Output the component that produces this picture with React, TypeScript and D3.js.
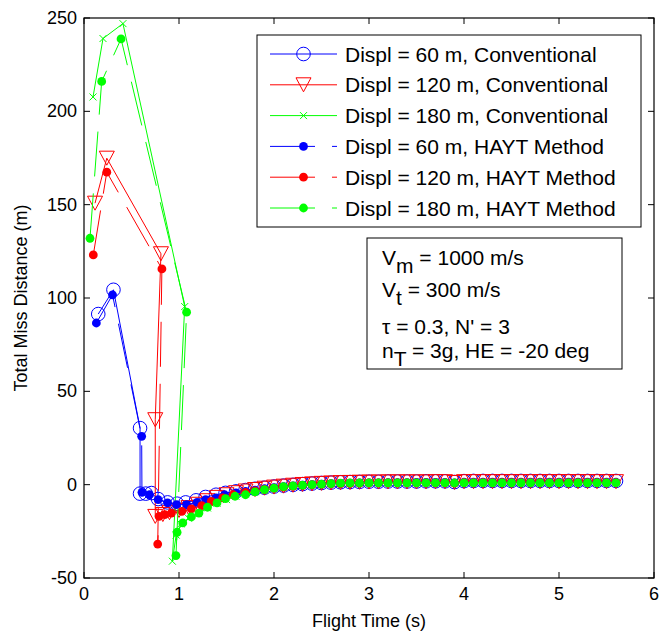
import React from "react";
import * as d3 from "d3";

// ---------- data ----------
const xTicks = [0, 1, 2, 3, 4, 5, 6];
const yTicks = [-50, 0, 50, 100, 150, 200, 250];

const tailTime = [1.7, 1.8, 1.9, 2.0, 2.1, 2.2, 2.3, 2.4, 2.5, 2.6, 2.7, 2.8, 2.9, 3.0, 3.1, 3.2, 3.3, 3.4, 3.5, 3.6, 3.7, 3.8, 3.9, 4.0, 4.1, 4.2, 4.3, 4.4, 4.5, 4.6, 4.7, 4.8, 4.9, 5.0, 5.1, 5.2, 5.3, 5.4, 5.5, 5.6];

const blueConvTime = [0.15, 0.31, 0.59, 0.59, 0.65, 0.71, 0.78, 0.88, 0.98, 1.07, 1.18, 1.28, 1.39, 1.49, 1.6];
const blueConvValue = [91.4, 104.4, 30.3, -4.8, -4.8, -4.5, -7.7, -9.5, -10.2, -9.5, -8.4, -6.6, -5.4, -4.4, -3.6];
const blueConvTail = [-2.9, -2.2, -1.6, -1.0, -0.5, -0.1, 0.3, 0.6, 0.9, 1.1, 1.3, 1.4, 1.5, 1.6, 1.6, 1.7, 1.7, 1.7, 1.7, 1.8, 1.8, 1.8, 1.4, 1.9, 2.0, 2.0, 2.0, 2.0, 2.0, 2.0, 2.0, 2.0, 2.0, 2.0, 2.0, 2.0, 2.0, 2.0, 2.0, 2.0];

const redConvTime = [0.116, 0.24, 0.81, 0.75, 0.75, 0.83, 0.9, 1.0, 1.1, 1.2, 1.3, 1.4, 1.5, 1.6];
const redConvValue = [150.8, 174.9, 123.7, 34.8, -17, -16, -15, -13.8, -12.3, -10.5, -8.6, -6.8, -5.4, -4.3];
const redConvTail = [-3.4, -2.6, -1.9, -1.3, -0.8, -0.3, 0.1, 0.4, 0.7, 0.9, 1.1, 1.2, 1.3, 1.4, 1.4, 1.5, 1.5, 1.5, 1.5, 1.5, 1.6, 1.6, 1.2, 1.6, 1.6, 1.6, 1.6, 1.6, 1.6, 1.6, 1.6, 1.6, 1.6, 1.6, 1.6, 1.6, 1.6, 1.6, 1.6, 1.6];

const greenConvTime = [0.095, 0.2, 0.41, 1.06, 0.93, 0.97, 1.02, 1.1, 1.2, 1.3, 1.4, 1.5, 1.6];
const greenConvValue = [207.7, 239, 247, 95.4, -41, -27, -21, -18, -15.5, -12.5, -10, -8, -6.3];
const greenConvTail = [-4.8, -3.8, -2.9, -2.1, -1.4, -0.9, -0.5, -0.1, 0.2, 0.5, 0.7, 0.8, 0.9, 1.0, 1.0, 1.0, 1.0, 1.0, 1.0, 1.0, 1.0, 1.0, 0.9, 1.1, 1.1, 1.1, 1.1, 1.1, 1.1, 1.1, 1.1, 1.1, 1.1, 1.1, 1.1, 1.1, 1.1, 1.1, 1.1, 1.1];

const blueHaytTime = [0.13, 0.3, 0.607, 0.61, 0.69, 0.78, 0.88, 0.975, 1.08, 1.19, 1.28, 1.39, 1.48, 1.6];
const blueHaytValue = [86.6, 101.7, 25.9, -4.1, -5.4, -8, -9.8, -10.7, -10.7, -9.5, -8, -7.1, -5.4, -4.4];
const blueHaytTail = [-3.6, -2.9, -2.2, -1.6, -1.1, -0.7, -0.3, 0.0, 0.3, 0.5, 0.7, 0.8, 0.9, 1.0, 1.0, 1.1, 1.1, 1.1, 1.2, 1.2, 1.2, 1.2, 0.9, 1.3, 1.3, 1.3, 1.3, 1.3, 1.3, 1.3, 1.3, 1.3, 1.3, 1.3, 1.3, 1.3, 1.3, 1.3, 1.3, 1.3];

const redHaytTime = [0.098, 0.24, 0.82, 0.776, 0.79, 0.85, 0.92, 1.03, 1.13, 1.24, 1.34, 1.46, 1.57];
const redHaytValue = [123.1, 167.4, 115.6, -31.8, -17, -16, -15.2, -14.3, -13, -11.2, -8.9, -7.1, -5.4];
const redHaytTail = [-4.2, -3.3, -2.6, -1.9, -1.3, -0.8, -0.4, -0.1, 0.2, 0.4, 0.6, 0.7, 0.8, 0.9, 0.9, 1.0, 1.0, 1.0, 1.0, 1.0, 1.0, 1.0, 0.8, 1.1, 1.1, 1.1, 1.1, 1.1, 1.1, 1.1, 1.1, 1.1, 1.1, 1.1, 1.1, 1.1, 1.1, 1.1, 1.1, 1.1];

const greenHaytTime = [0.063, 0.186, 0.39, 1.08, 0.968, 0.98, 1.04, 1.13, 1.21, 1.3, 1.4, 1.49, 1.59];
const greenHaytValue = [132, 216, 238.8, 92.4, -38, -25.5, -20.5, -17.3, -15.2, -12.1, -9.8, -7.5, -6.2];
const greenHaytTail = [-5.4, -3.9, -2.7, -1.8, -1.1, -0.7, -0.3, 0.0, 0.3, 0.6, 0.8, 0.9, 0.9, 1.0, 1.0, 1.0, 1.0, 1.0, 1.0, 1.0, 1.0, 1.0, 0.9, 1.0, 1.0, 1.0, 1.0, 1.0, 1.0, 1.0, 1.0, 1.0, 1.0, 1.0, 1.0, 1.0, 1.0, 1.0, 1.0, 1.0];

const legendLabels = [
  "Displ = 60 m, Conventional",
  "Displ = 120 m, Conventional",
  "Displ = 180 m, Conventional",
  "Displ = 60 m, HAYT Method",
  "Displ = 120 m, HAYT Method",
  "Displ = 180 m, HAYT Method",
];

type Pt = [number, number];
const build = (t: number[], v: number[], tail: number[]): Pt[] =>
  t.map((d, i) => [d, v[i]] as Pt).concat(tailTime.map((d, i) => [d, tail[i]] as Pt));

const series = [
  { pts: build(blueConvTime, blueConvValue, blueConvTail), color: "#0000ff", marker: "circle", dashed: false },
  { pts: build(redConvTime, redConvValue, redConvTail), color: "#ff0000", marker: "triangle", dashed: false },
  { pts: build(greenConvTime, greenConvValue, greenConvTail), color: "#00ff00", marker: "x", dashed: false },
  { pts: build(blueHaytTime, blueHaytValue, blueHaytTail), color: "#0000ff", marker: "dot", dashed: true },
  { pts: build(redHaytTime, redHaytValue, redHaytTail), color: "#ff0000", marker: "dot", dashed: true },
  { pts: build(greenHaytTime, greenHaytValue, greenHaytTail), color: "#00ff00", marker: "dot", dashed: true },
];

const FONT = "Arial, 'Liberation Sans', sans-serif";
const DASH = "45 17";

function Marker({ kind, x, y, color }: { kind: string; x: number; y: number; color: string }) {
  if (kind === "circle")
    return <circle cx={x} cy={y} r={6.8} fill="none" stroke={color} strokeWidth={1} />;
  if (kind === "triangle")
    return (
      <polygon
        points={`${x - 7.5},${y - 7} ${x + 7.5},${y - 7} ${x},${y + 7}`}
        fill="none"
        stroke={color}
        strokeWidth={1}
      />
    );
  if (kind === "x")
    return (
      <path
        d={`M${x - 3.5},${y - 3.5}L${x + 3.5},${y + 3.5}M${x - 3.5},${y + 3.5}L${x + 3.5},${y - 3.5}`}
        stroke={color}
        strokeWidth={1}
      />
    );
  return <circle cx={x} cy={y} r={4.4} fill={color} stroke="none" />;
}

export default function App() {
  const x = d3.scaleLinear().domain([0, 6]).range([84, 654]);
  const y = d3.scaleLinear().domain([-50, 250]).range([578, 18]);
  const line = d3
    .line<Pt>()
    .x((d) => x(d[0]))
    .y((d) => y(d[1]));

  const legX0 = 270;
  const legX1 = 337;
  const legRow = (i: number) => 54 + i * 30.8;

  return (
    <svg
      width={661}
      height={638}
      style={{ position: "absolute", left: 0, top: 0, background: "#fff" }}
      fontFamily={FONT}
    >
      <rect x={0} y={0} width={661} height={638} fill="#fff" />
      {/* series */}
      {series.map((s, i) => (
        <g key={i}>
          <path
            d={line(s.pts) || ""}
            fill="none"
            stroke={s.color}
            strokeWidth={1}
            strokeDasharray={s.dashed ? DASH : undefined}
          />
          {s.pts.map((p, j) => (
            <Marker key={j} kind={s.marker} x={x(p[0])} y={y(p[1])} color={s.color} />
          ))}
        </g>
      ))}

      {/* axes box */}
      <rect x={84} y={18} width={570} height={560} fill="none" stroke="#000" strokeWidth={1.2} />
      {xTicks.map((t) => (
        <g key={"x" + t}>
          <line x1={x(t)} x2={x(t)} y1={578} y2={572} stroke="#000" />
          <line x1={x(t)} x2={x(t)} y1={18} y2={24} stroke="#000" />
          <text x={x(t)} y={600} fontSize={18} textAnchor="middle">
            {t}
          </text>
        </g>
      ))}
      {yTicks.map((t) => (
        <g key={"y" + t}>
          <line x1={84} x2={90} y1={y(t)} y2={y(t)} stroke="#000" />
          <line x1={654} x2={648} y1={y(t)} y2={y(t)} stroke="#000" />
          <text x={77} y={y(t) + 6} fontSize={18} textAnchor="end">
            {t}
          </text>
        </g>
      ))}
      <text x={369} y={627} fontSize={18} textAnchor="middle">
        Flight Time (s)
      </text>
      <text transform="translate(27,298) rotate(-90)" fontSize={18} textAnchor="middle">
        Total Miss Distance (m)
      </text>

      {/* legend */}
      <rect x={257} y={35} width={384} height={192} fill="#fff" stroke="#000" strokeWidth={1} />
      {series.map((s, i) => {
        const yy = legRow(i);
        return (
          <g key={"l" + i}>
            <line
              x1={legX0}
              x2={legX1}
              y1={yy}
              y2={yy}
              stroke={s.color}
              strokeWidth={1}
              strokeDasharray={s.dashed ? DASH : undefined}
            />
            <Marker kind={s.marker} x={303.5} y={yy} color={s.color} />
            <text x={345} y={yy + 7.5} fontSize={21}>
              {legendLabels[i]}
            </text>
          </g>
        );
      })}

      {/* annotation */}
      <rect x={367} y={238} width={255} height={131} fill="#fff" stroke="#000" strokeWidth={1} />
      <g fontSize={21}>
        <text x={382} y={265}>
          V<tspan dy={8}>m</tspan>
          <tspan dy={-8}> = 1000 m/s</tspan>
        </text>
        <text x={382} y={297}>
          V<tspan dy={8}>t</tspan>
          <tspan dy={-8}> = 300 m/s</tspan>
        </text>
        <text x={382} y={334}>
          τ = 0.3, N' = 3
        </text>
        <text x={382} y={358}>
          n<tspan dy={8}>T</tspan>
          <tspan dy={-8}> = 3g, HE = -20 deg</tspan>
        </text>
      </g>
    </svg>
  );
}
